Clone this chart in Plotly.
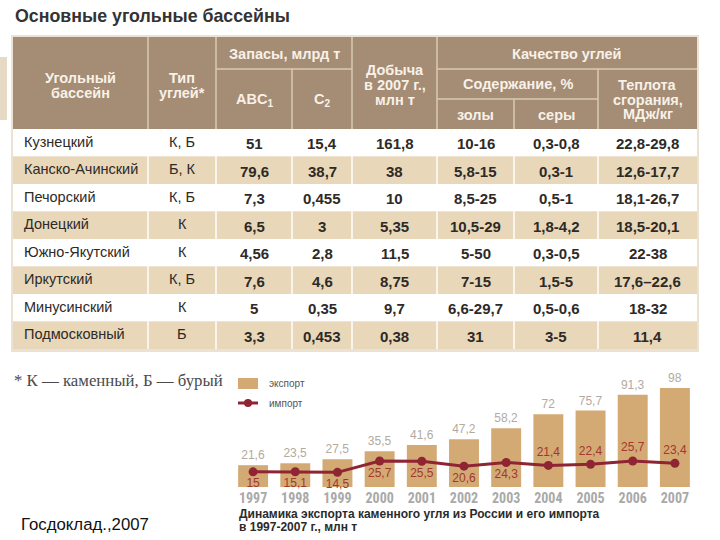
import plotly.graph_objects as go

# ---------------- data ----------------
basins = ["Кузнецкий", "Канско-Ачинский", "Печорский", "Донецкий",
          "Южно-Якутский", "Иркутский", "Минусинский", "Подмосковный"]
coal_types = ["К, Б", "Б, К", "К, Б", "К", "К", "К, Б", "К", "Б"]
reserves_abc1 = [51, 79.6, 7.3, 6.5, 4.56, 7.6, 5, 3.3]
reserves_c2 = [15.4, 38.7, 0.455, 3, 2.8, 4.6, 0.35, 0.453]
production_2007 = [161.8, 38, 10, 5.35, 11.5, 8.75, 9.7, 0.38]
ash_pct = ["10-16", "5,8-15", "8,5-25", "10,5-29", "5-50", "7-15", "6,6-29,7", "31"]
sulfur_pct = ["0,3-0,8", "0,3-1", "0,5-1", "1,8-4,2", "0,3-0,5", "1,5-5", "0,5-0,6", "3-5"]
heat_mj = ["22,8-29,8", "12,6-17,7", "18,1-26,7", "18,5-20,1", "22-38", "17,6–22,6", "18-32", "11,4"]

years = ["1997", "1998", "1999", "2000", "2001", "2002", "2003", "2004", "2005", "2006", "2007"]
export = [21.6, 23.5, 27.5, 35.5, 41.6, 47.2, 58.2, 72, 75.7, 91.3, 98]
imports = [15, 15.1, 14.5, 25.7, 25.5, 20.6, 24.3, 21.4, 22.4, 25.7, 23.4]
import_label_pos = ["bottom center"] * 7 + ["top center"] * 4


def fmt(v):
    return ("%g" % v).replace(".", ",")


W, H = 720, 540


def X(px):
    return px / W


def Y(py):
    return 1 - py / H


FONT = "Liberation Sans, Arial, sans-serif"
NARROW = "Liberation Sans Narrow, Roboto Condensed, DejaVu Sans Condensed, Arial, sans-serif"
HEAD_FILL = "#a48c75"
HEAD_LINE = "#d9cab5"
HEAD_TEXT = "#f8f1e7"
TAN = "#e8d7b9"
BODY_TEXT = "#2e2a26"

fig = go.Figure()

fig.add_trace(go.Bar(
    x=years, y=export, width=0.71,
    marker=dict(color="#d4aa74", line=dict(width=0)),
    text=[fmt(v) for v in export], textposition="outside",
    textfont=dict(family=FONT, size=12, color="#b3aaa0"),
    cliponaxis=False, hoverinfo="skip",
))
fig.add_trace(go.Scatter(
    x=years, y=imports, mode="lines+markers+text",
    line=dict(color="#8f2433", width=3),
    marker=dict(size=9, color="#8f2433"),
    text=[fmt(v) for v in imports], textposition=import_label_pos,
    textfont=dict(family=FONT, size=12, color="#a3372e"),
    cliponaxis=False, hoverinfo="skip",
))

shapes = []
ann = []

# title
ann.append(dict(x=X(13), y=Y(16), xref="paper", yref="paper", xanchor="left", yanchor="middle",
                text="<b>Основные угольные бассейны</b>", showarrow=False,
                font=dict(family=FONT, size=17.8, color="#333333")))

# left tab fragment
shapes.append(dict(type="rect", xref="paper", yref="paper", x0=X(0), x1=X(7), y0=Y(57), y1=Y(120),
                   fillcolor="#e7dac5", line=dict(width=0), layer="below"))

# table geometry
cols = [13, 148, 216, 292, 352, 437, 514, 598, 697]
h_top, h1, h2, h_bot = 37, 69, 99, 129
row_h = 27.5
n = len(basins)
t_bot = h_bot + n * row_h

# outer frame
shapes.append(dict(type="rect", xref="paper", yref="paper", x0=X(cols[0] - 2), x1=X(cols[-1] + 2),
                   y0=Y(h_top - 2), y1=Y(t_bot + 3), fillcolor="#ece2d3",
                   line=dict(width=0), layer="below"))
# header fill
shapes.append(dict(type="rect", xref="paper", yref="paper", x0=X(cols[0]), x1=X(cols[-1]),
                   y0=Y(h_top), y1=Y(h_bot), fillcolor=HEAD_FILL, line=dict(width=0), layer="below"))
# body rows
for i in range(n):
    shapes.append(dict(type="rect", xref="paper", yref="paper", x0=X(cols[0]), x1=X(cols[-1]),
                       y0=Y(h_bot + i * row_h), y1=Y(h_bot + (i + 1) * row_h),
                       fillcolor=(TAN if i % 2 else "#ffffff"), line=dict(width=0), layer="below"))


def vline(x, ya, yb, color, w=1.5):
    shapes.append(dict(type="line", xref="paper", yref="paper", x0=X(x), x1=X(x), y0=Y(ya), y1=Y(yb),
                       line=dict(color=color, width=w), layer="below"))


def hline(y, xa, xb, color, w=1.5):
    shapes.append(dict(type="line", xref="paper", yref="paper", x0=X(xa), x1=X(xb), y0=Y(y), y1=Y(y),
                       line=dict(color=color, width=w), layer="below"))


# header grid
for c in (cols[1], cols[2], cols[4], cols[5]):
    vline(c, h_top, h_bot, HEAD_LINE)
vline(cols[3], h1, h_bot, HEAD_LINE)
vline(cols[7], h1, h_bot, HEAD_LINE)
vline(cols[6], h2, h_bot, HEAD_LINE)
hline(h1, cols[2], cols[4], HEAD_LINE)
hline(h1, cols[5], cols[8], HEAD_LINE)
hline(h2, cols[5], cols[7], HEAD_LINE)
# body grid
for c in cols[1:-1]:
    vline(c, h_bot, t_bot, "#ffffff")


def txt(x, y, s, size=15, color=HEAD_TEXT, anchor="center", bold=True, family=FONT):
    ann.append(dict(x=X(x), y=Y(y), xref="paper", yref="paper", xanchor=anchor, yanchor="middle",
                    text=(f"<b>{s}</b>" if bold else s), showarrow=False,
                    font=dict(family=family, size=size, color=color)))


def mid(a, b):
    return (cols[a] + cols[b]) / 2


HS = 14.5
# header text
txt(mid(0, 1), 78, "Угольный", HS)
txt(mid(0, 1), 93, "бассейн", HS)
txt(mid(1, 2), 78, "Тип", HS)
txt(mid(1, 2), 93, "углей*", HS)
txt(mid(2, 4), 54, "Запасы, млрд т", HS)
txt(mid(2, 3), 100, "ABC<sub>1</sub>", HS)
txt(mid(3, 4), 100, "C<sub>2</sub>", HS)
txt(mid(4, 5), 70, "Добыча", HS)
txt(mid(4, 5), 85, "в 2007 г.,", HS)
txt(mid(4, 5), 100, "млн т", HS)
txt(mid(5, 8), 54, "Качество углей", HS)
txt(mid(5, 7), 84, "Содержание, %", HS)
txt(mid(5, 6), 115, "золы", HS)
txt(mid(6, 7), 115, "серы", HS)
txt(mid(7, 8), 85, "Теплота", HS)
txt(mid(7, 8), 100, "сгорания,", HS)
txt(mid(7, 8), 114, "МДж/кг", HS)

# body text
for i in range(n):
    yc = h_bot + (i + 0.5) * row_h
    txt(22, yc - 1, basins[i], size=14.5, color=BODY_TEXT, anchor="left", bold=False)
    txt(mid(1, 2), yc - 1, coal_types[i], size=14.5, color=BODY_TEXT, bold=False)
    vals = [fmt(reserves_abc1[i]), fmt(reserves_c2[i]), fmt(production_2007[i]),
            ash_pct[i], sulfur_pct[i], heat_mj[i]]
    for j, v in enumerate(vals):
        txt(mid(2 + j, 3 + j), yc + 1, v, size=15, color=BODY_TEXT)

# footnote
ann.append(dict(x=X(12), y=Y(380), xref="paper", yref="paper", xanchor="left", yanchor="middle",
                text="* К — каменный, Б — бурый", showarrow=False,
                font=dict(family="Liberation Serif, Times New Roman, serif", size=16.8, color="#4a4a4a")))

# legend (manual)
shapes.append(dict(type="rect", xref="paper", yref="paper", x0=X(238), x1=X(258), y0=Y(378), y1=Y(389),
                   fillcolor="#d4aa74", line=dict(width=0)))
shapes.append(dict(type="line", xref="paper", yref="paper", x0=X(238), x1=X(258), y0=Y(403), y1=Y(403),
                   line=dict(color="#8f2433", width=3)))
shapes.append(dict(type="circle", xref="paper", yref="paper", x0=X(244), x1=X(252), y0=Y(399), y1=Y(407),
                   fillcolor="#8f2433", line=dict(width=0)))
txt(267, 383, "экспорт", size=10, color="#555555", anchor="left", bold=False)
txt(267, 403, "импорт", size=10, color="#555555", anchor="left", bold=False)

# caption
txt(237, 514, "Динамика экспорта каменного угля из России и его импорта", size=12,
    color="#2b2b2b", anchor="left")
txt(237, 527, "в 1997-2007 г., млн т", size=12, color="#2b2b2b", anchor="left")

# source
txt(19, 524, "Госдоклад.,2007", size=16.8, color="#111111", anchor="left", bold=False)

ppu = 99 / 98  # pixels per unit
fig.update_layout(
    width=W, height=H, margin=dict(l=0, r=0, t=0, b=0),
    paper_bgcolor="#ffffff", plot_bgcolor="rgba(0,0,0,0)",
    showlegend=False, shapes=shapes, annotations=ann,
    xaxis=dict(domain=[X(232), X(696)], type="category", range=[-0.5, len(years) - 0.5],
               showgrid=False, zeroline=False,
               showline=False, ticks="", ticklabelstandoff=1,
               tickfont=dict(family=NARROW, size=14, color="#a9a9a9", weight="bold")),
    yaxis=dict(domain=[Y(487), Y(377)], range=[0, 110 / ppu], visible=False),
)

fig.write_html("out.html", post_script="document.body.style.margin='0';",
               config={"displayModeBar": False})
